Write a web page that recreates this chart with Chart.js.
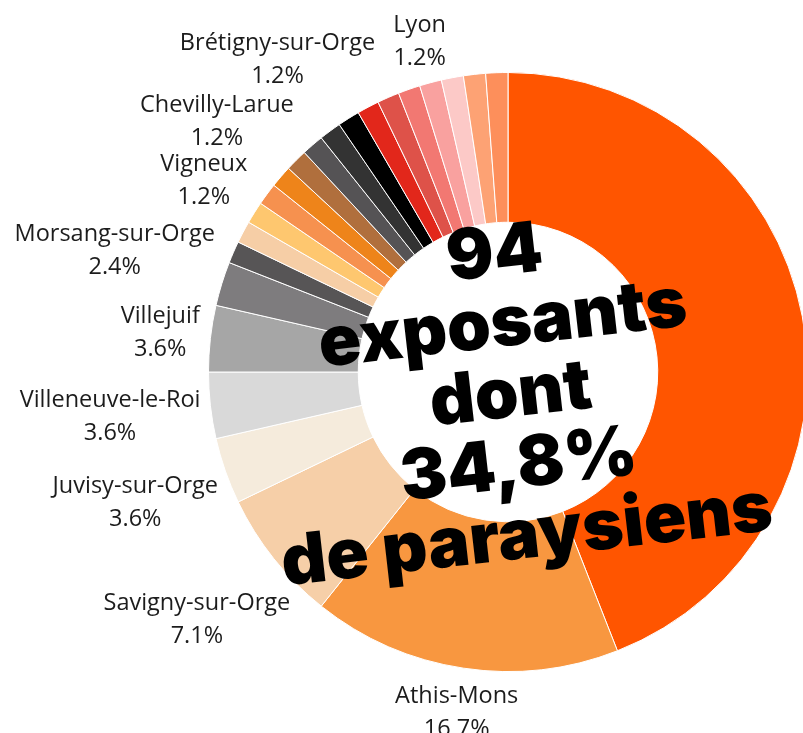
<!DOCTYPE html>
<html lang="fr">
<head>
<meta charset="utf-8">
<style>
  html, body { margin: 0; padding: 0; background: #fff; overflow: hidden; width: 803px; height: 733px; }
  #wrap { position: relative; width: 1016px; height: 744px; }
</style>
<script src="https://cdn.jsdelivr.net/npm/chart.js@4.4.1/dist/chart.umd.min.js"></script>
</head>
<body>
<div id="wrap"><canvas id="exposants-chart" width="1016" height="744"></canvas></div>
<script>
/* nombre d'exposants par ville (total 84 villes renseignées) */
const VILLES = [
  "Paray-Vieille-Poste", "Athis-Mons", "Savigny-sur-Orge", "Juvisy-sur-Orge",
  "Villeneuve-le-Roi", "Villejuif", "Morsang-sur-Orge",
  "", "", "Vigneux", "", "Chevilly-Larue", "", "", "Brétigny-sur-Orge",
  "", "", "", "", "Lyon", "", "", ""
];
const EXPOSANTS = [37, 14, 6, 3, 3, 3, 2, 1, 1, 1, 1, 1, 1, 1, 1, 1, 1, 1, 1, 1, 1, 1, 1];
const AFFICHER = [
  false, true, true, true, true, true, true,
  false, false, true, false, true, false, false, true,
  false, false, false, false, true, false, false, false
];
const TITRE = ["94", "exposants", "dont", "34,8%", "de paraysiens"];

const COULEURS = [
  "#ff5500", "#f89740", "#f6cfa8", "#f5ebdc", "#d9d9d9", "#a6a6a6", "#7e7c7e",
  "#575556", "#f6cea6", "#fec76f", "#f6914f", "#ee841a", "#b06f3d", "#555355",
  "#333333", "#000000", "#e2271b", "#de5249", "#f27872", "#f9a19f", "#fcc9c7",
  "#fda274", "#fd8f5b"
];

(function () {
  const total = EXPOSANTS.reduce(function (a, b) { return a + b; }, 0);

  // étiquettes à l'extérieur des parts (nom + pourcentage)
  const etiquettes = {
    id: "etiquettes",
    afterDatasetsDraw: function (chart) {
      const ctx = chart.ctx;
      const meta = chart.getDatasetMeta(0);
      const lh = 33;
      const offset = 8;
      ctx.save();
      ctx.font = "23.5px 'Open Sans'";
      ctx.fillStyle = "#1c1c1c";
      ctx.textAlign = "center";
      ctx.textBaseline = "middle";
      meta.data.forEach(function (arc, i) {
        if (!AFFICHER[i]) return;
        const p = arc.getProps(["x", "y", "startAngle", "endAngle", "outerRadius"], true);
        const mid = (p.startAngle + p.endAngle) / 2;
        const cos = Math.cos(mid), sin = Math.sin(mid);
        const lignes = [VILLES[i], (EXPOSANTS[i] / total * 100).toFixed(1) + "%"];
        const w = Math.max.apply(null, lignes.map(function (t) { return ctx.measureText(t).width; }));
        const h = lignes.length * lh;
        const ext = Math.abs(cos) * w / 2 + Math.abs(sin) * (h / 2 - 5);
        const r = p.outerRadius + offset + ext;
        const cx = p.x + cos * r, cy = p.y + sin * r;
        lignes.forEach(function (t, k) {
          ctx.fillText(t, cx, cy + (k - (lignes.length - 1) / 2) * lh);
        });
      });
      ctx.restore();
    }
  };

  // texte central incliné
  const titre = {
    id: "titre",
    afterDraw: function (chart) {
      const ctx = chart.ctx;
      const arc = chart.getDatasetMeta(0).data[0];
      ctx.save();
      ctx.translate(arc.x, arc.y);
      ctx.rotate(-6.5 * Math.PI / 180);
      ctx.font = "900 70px Inter, 'Open Sans', sans-serif";
      ctx.fillStyle = "#000";
      ctx.textAlign = "center";
      ctx.textBaseline = "alphabetic";
      TITRE.forEach(function (t, i) {
        ctx.fillText(t, 0, -97 + 71 * i);
      });
      ctx.restore();
    }
  };

  new Chart(document.getElementById("exposants-chart"), {
    type: "doughnut",
    data: {
      labels: VILLES,
      datasets: [{
        data: EXPOSANTS,
        backgroundColor: COULEURS,
        borderColor: "#ffffff",
        borderWidth: 1
      }]
    },
    options: {
      responsive: false,
      animation: false,
      cutout: "50%",
      layout: { padding: 72 },
      plugins: {
        legend: { display: false },
        tooltip: { enabled: false }
      }
    },
    plugins: [etiquettes, titre]
  });
})();
</script>
</body>
</html>
